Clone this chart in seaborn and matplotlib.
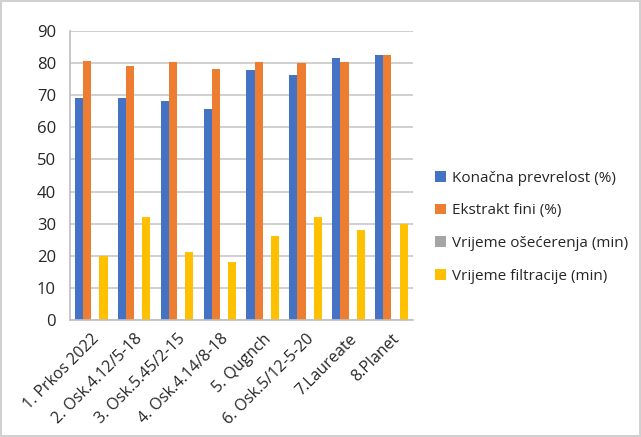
import matplotlib
matplotlib.use("Agg")
import matplotlib.pyplot as plt
import seaborn as sns
import pandas as pd
import numpy as np

categories = ["1. Prkos 2022", "2. Osk.4.12/5-18", "3. Osk.5.45/2-15", "4. Osk.4.14/8-18",
              "5. Qugnch", "6. Osk.5/12-5-20", "7.Laureate", "8.Planet"]
series = ["Konačna prevrelost (%)", "Ekstrakt fini (%)",
          "Vrijeme ošećerenja (min)", "Vrijeme filtracije (min)"]
prevrelost = [69, 69, 68.3, 65.6, 77.8, 76.4, 81.5, 82.6]
ekstrakt = [80.8, 79.2, 80.2, 78.1, 80.5, 79.9, 80.5, 82.4]
osecerenje = [0, 0, 0, 0, 0, 0, 0, 0]
filtracija = [20, 32, 21, 18, 26, 32, 28, 30]
colors = ["#4472C4", "#ED7D31", "#A5A5A5", "#FFC000"]

df = pd.DataFrame({"kategorija": categories * 4,
                   "serija": np.repeat(series, len(categories)),
                   "vrijednost": prevrelost + ekstrakt + osecerenje + filtracija})

sns.set_style("white")
plt.rcParams["font.family"] = ["Open Sans", "DejaVu Sans"]

fig = plt.figure(figsize=(6.41, 4.37), dpi=100, edgecolor="#d0d0d0", linewidth=1.5)
ax = fig.add_axes([0.109, 0.268, 0.535, 0.661])
sns.barplot(data=df, x="kategorija", y="vrijednost", hue="serija", palette=colors,
            width=0.76, ax=ax, saturation=1, legend=True, linewidth=0)

ax.set_ylim(0, 90)
ax.set_yticks(range(0, 91, 10))
ax.set_xlim(-0.5, len(categories) - 0.5)
ax.yaxis.grid(True, color="#c8c8c8", linewidth=1.2)
ax.set_axisbelow(True)
ax.set_xlabel("")
ax.set_ylabel("")
for s in ["top", "right"]:
    ax.spines[s].set_visible(False)
ax.spines["left"].set_color("#bfbfbf")
ax.spines["bottom"].set_color("#bfbfbf")
ax.spines["left"].set_linewidth(1.2)
ax.spines["bottom"].set_linewidth(1.2)

ax.set_xticks(range(len(categories)))
ax.set_xticklabels(categories, rotation=45, ha="right", rotation_mode="anchor", fontsize=11.5)
ax.tick_params(axis="x", length=0, pad=8)
ax.set_xticks(np.arange(-0.5, len(categories)), minor=True)
ax.tick_params(axis="x", which="minor", length=5, color="#bfbfbf", width=1.2)
ax.tick_params(axis="y", length=0, labelsize=12, pad=10)

ax.legend(loc="center left", bbox_to_anchor=(0.657, 0.48), bbox_transform=fig.transFigure,
          frameon=False, fontsize=11, handlelength=0.7, handleheight=0.7,
          handletextpad=0.45, labelspacing=1.15)

plt.savefig("out.png", dpi=100, edgecolor=fig.get_edgecolor())
